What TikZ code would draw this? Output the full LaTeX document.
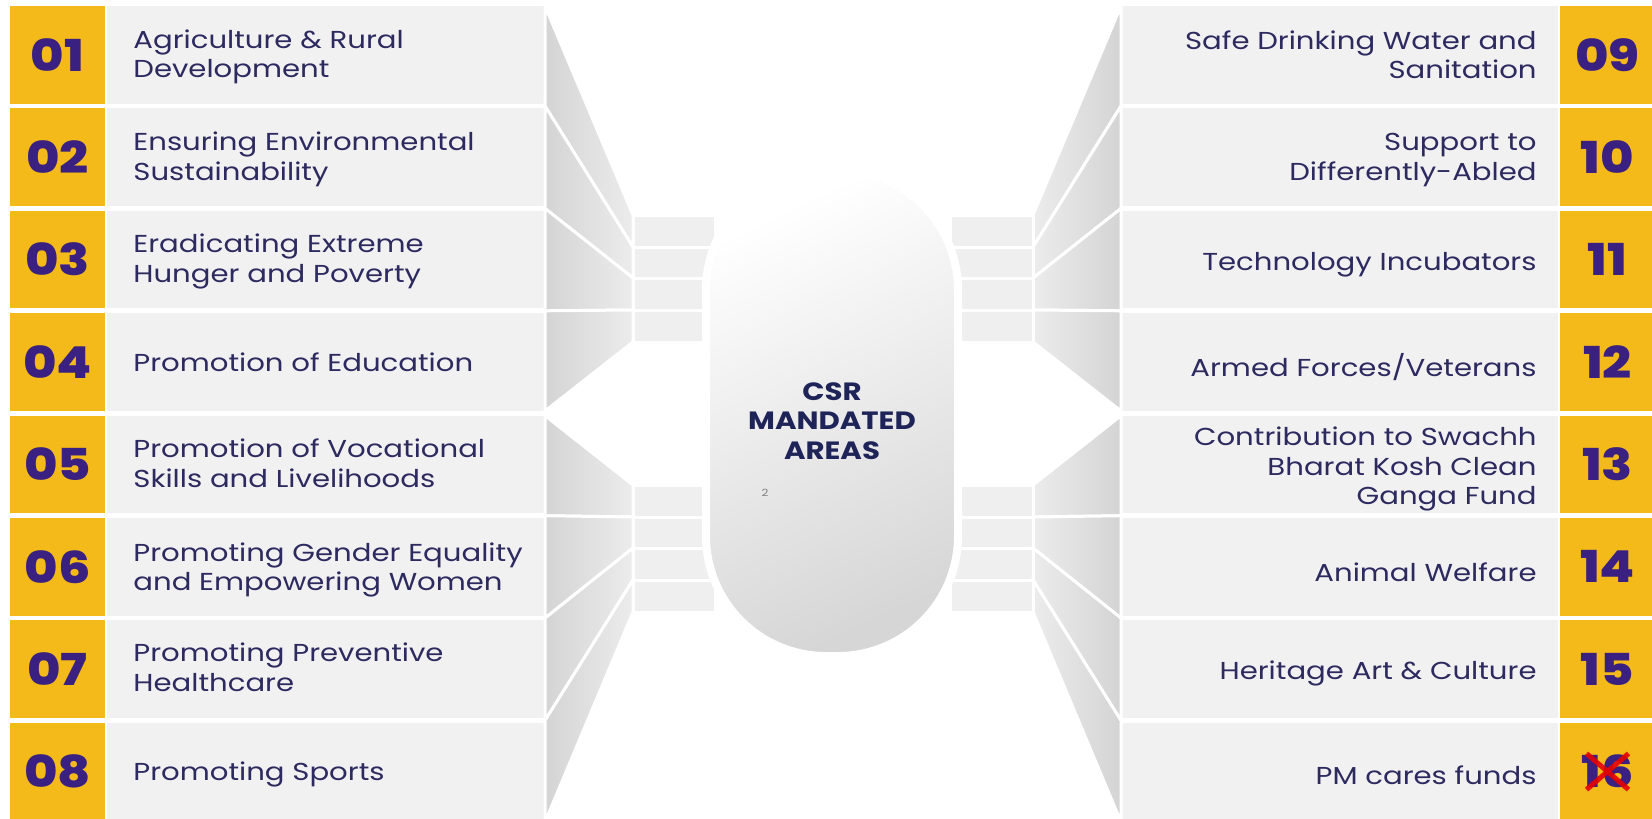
\documentclass[tikz,border=0pt]{standalone}
\usepackage{fontspec}
\setmainfont{Poppins}[FakeStretch=1.19, BoldFeatures={FakeStretch=1.17}]
\IfFontExistsTF{Poppins ExtraBold}{\newfontfamily\numfont{Poppins ExtraBold}[FakeStretch=1.16]}{\newfontfamily\numfont{Poppins}[UprightFont=*-Bold, FakeStretch=1.16]}
\usetikzlibrary{positioning}

\definecolor{csryellow}{RGB}{244,186,26}
\definecolor{csrpanel}{RGB}{241,241,241}
\definecolor{csrfunnel}{RGB}{212,212,212}
\definecolor{csrlight}{RGB}{236,236,236}
\definecolor{csrbar}{RGB}{239,239,239}
\definecolor{csrnum}{RGB}{58,32,128}
\definecolor{csrtext}{RGB}{45,42,96}
\definecolor{csrtitle}{RGB}{30,36,88}

\tikzset{
  numbox/.style={fill=csryellow, minimum width=95pt, minimum height=97.5pt, inner sep=0pt,
    text=csrnum, font=\numfont\fontsize{44}{44}\selectfont},
  panelbox/.style={fill=csrpanel, minimum width=438pt, minimum height=97.5pt, inner sep=0pt},
  leftlabel/.style={text=csrtext, font=\fontsize{24.5}{29.5}\selectfont, align=left, anchor=west, inner sep=0pt},
  rightlabel/.style={text=csrtext, font=\fontsize{24.5}{29.5}\selectfont, align=right, anchor=east, inner sep=0pt},
  funnel/.style={draw=white, line width=3pt},
  bar/.style={fill=csrbar, draw=white, line width=3pt},
  xmark/.style={draw=red!90!black, line width=5pt, opacity=0.9}
}

\begin{document}
\begin{tikzpicture}[x=1pt, y=-1pt]
    \useasboundingbox (0,0) rectangle (1652,819);

    % Left column
    \foreach \num/\dy/\txt [count=\i from 0] in {01/2/{Agriculture \& Rural\\Development},
        02/2/{Ensuring Environmental\\Sustainability}, 03/2/{Eradicating Extreme\\Hunger and Poverty},
        04/0/{Promotion of Education}, 05/-1/{Promotion of Vocational\\Skills and Livelihoods},
        06/3/{Promoting Gender Equality\\and Empowering Women}, 07/-2/{Promoting Preventive\\Healthcare},
        08/3/{Promoting Sports}}{
        \pgfmathsetmacro\yc{54.75+102.4*\i}
        \node[numbox] (num\num) at (57.5,\yc) {\num};
        \node[panelbox, right=2pt of num\num] (pan\num) {};
        \node[leftlabel] (lab\num) at ([xshift=26pt, yshift=-\dy pt]pan\num.west) {\txt};
    }

    % Right column
    \foreach \num/\dy/\txt [count=\i from 0] in {09/0/{Safe Drinking Water and\\Sanitation},
        10/3/{Support to\\Differently-Abled}, 11/5/{Technology Incubators},
        12/5/{Armed Forces/Veterans}, 13/5/{Contribution to Swachh\\Bharat Kosh Clean\\Ganga Fund},
        14/5/{Animal Welfare}, 15/4/{Heritage Art \& Culture}, 16/4/{PM cares funds}}{
        \pgfmathsetmacro\yc{54.75+102.4*\i}
        \node[numbox] (num\num) at (1607.5,\yc) {\num};
        \node[panelbox, left=2pt of num\num] (pan\num) {};
        \node[rightlabel] (lab\num) at ([xshift=-21pt, yshift=-\dy pt]pan\num.east) {\txt};
    }

    % Funnels + bars
    \foreach \ya/\yb/\ba/\bb in {6/106/215/247, 106/208.4/247/278, 208.4/310.8/278/310,
        310.8/411/310/342, 415.6/515.7/485/517, 515.7/618.1/517/548,
        618.1/720.5/548/580, 720.5/822/580/612}{
        \shadedraw[funnel, left color=csrfunnel, right color=csrlight]
            (545,\ya) -- (633,\ba) -- (633,\bb) -- (545,\yb) -- cycle;
        \shadedraw[funnel, right color=csrfunnel, left color=csrlight]
            (1121,\ya) -- (1033,\ba) -- (1033,\bb) -- (1121,\yb) -- cycle;
        \filldraw[bar] (633,\ba) rectangle (715,\bb);
        \filldraw[bar] (950,\ba) rectangle (1033,\bb);
    }

    % Centre capsule
    \node[draw=white, line width=8pt, rounded corners=120pt, minimum width=252pt, minimum height=486pt,
        top color=white, bottom color=black!16, shading angle=25] (hub) at (832,413) {};
    \node[text=csrtitle, font=\bfseries\fontsize{25}{29.5}\selectfont, align=center] (title) at (832,421)
        {CSR\\MANDATED\\AREAS};
    \node[text=gray, font=\fontsize{10}{10}\selectfont] (pg) at (765,493) {2};

    % Struck-out number
    \draw[xmark] ([shift={(-21,-18)}]num16.center) -- ([shift={(21,18)}]num16.center);
    \draw[xmark] ([shift={(-21,18)}]num16.center) -- ([shift={(21,-18)}]num16.center);

\end{tikzpicture}
\end{document}
